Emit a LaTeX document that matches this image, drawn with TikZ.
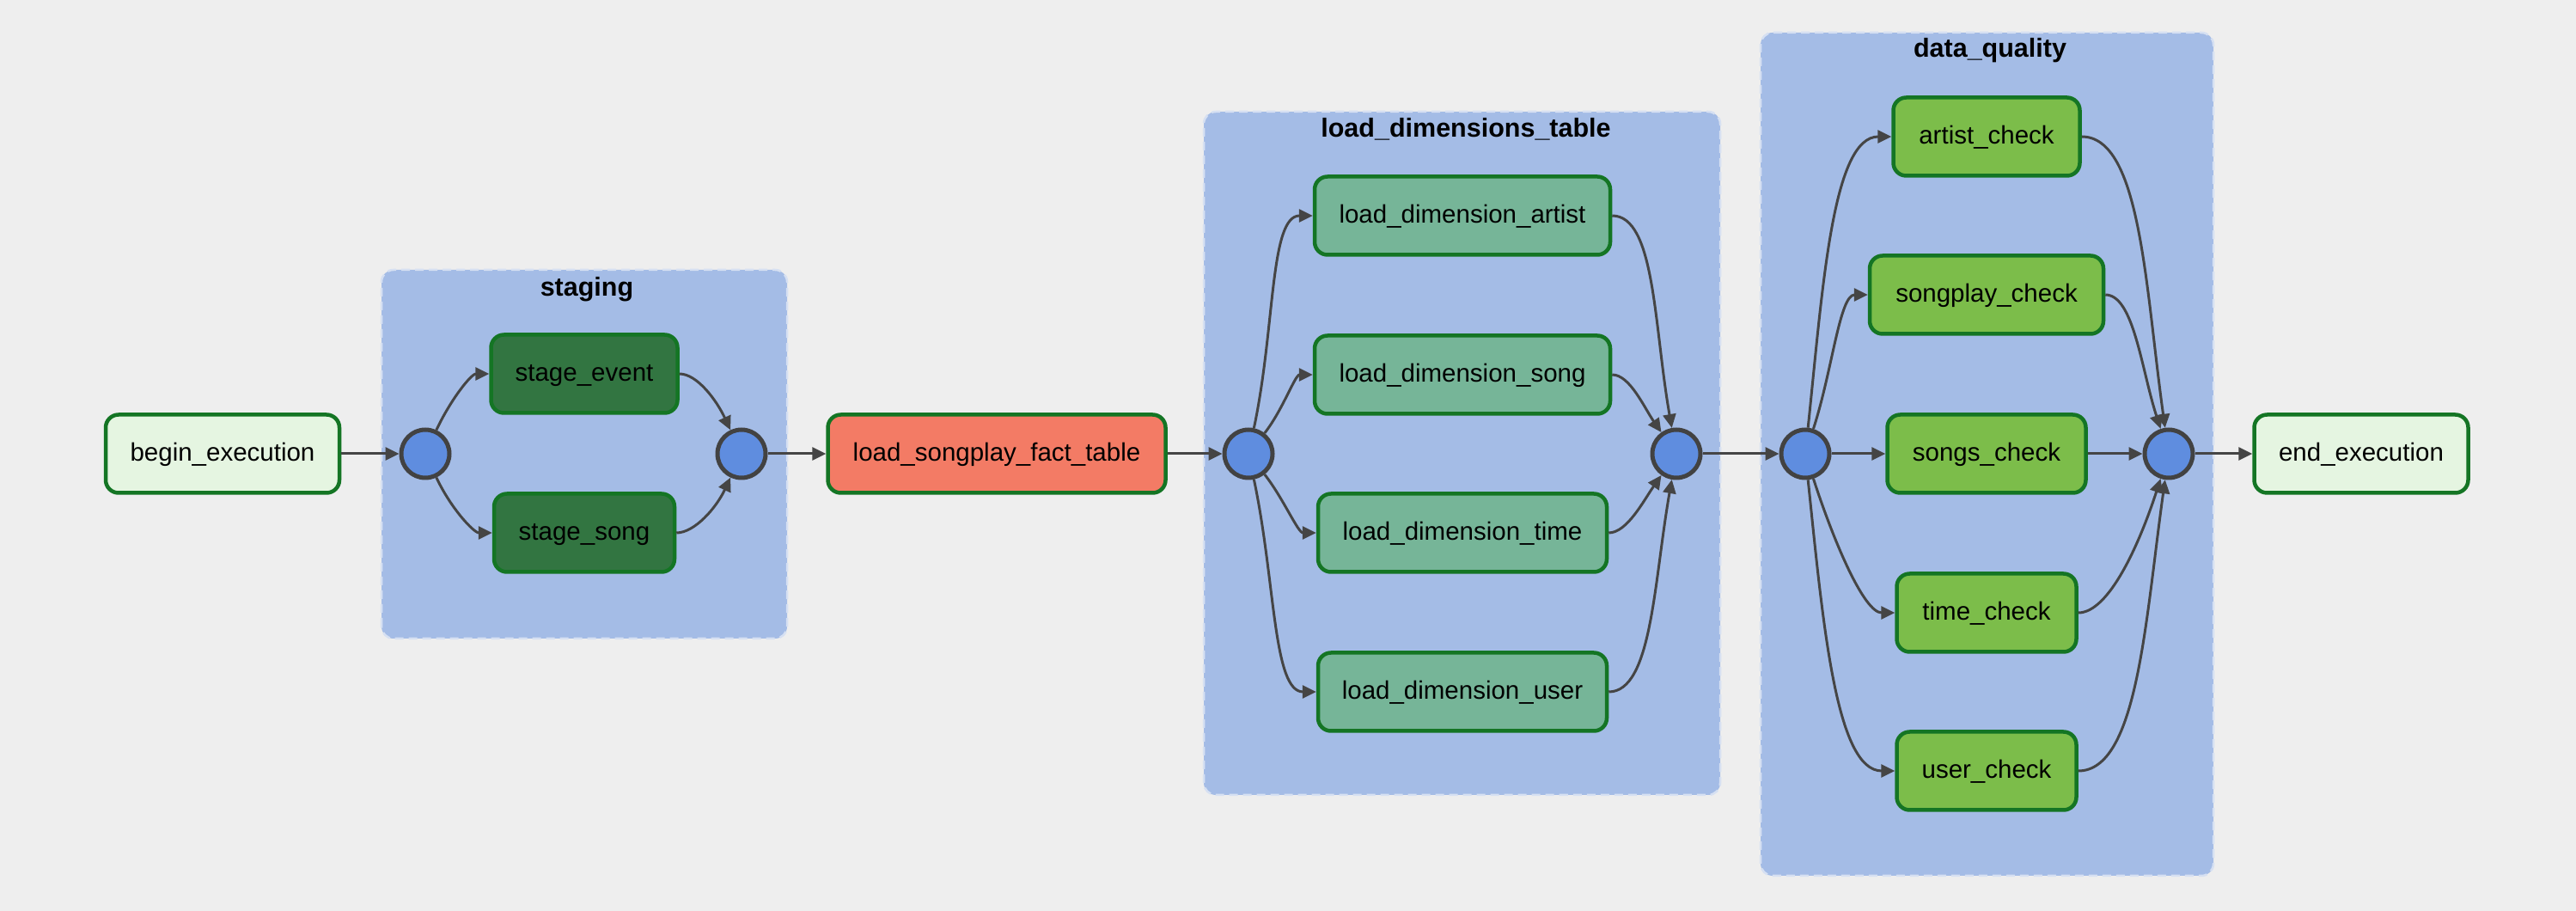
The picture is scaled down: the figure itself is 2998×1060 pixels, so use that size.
\documentclass[tikz,border=0pt]{standalone}
\usepackage{fontspec}
\setmainfont{Liberation Sans}
\usetikzlibrary{arrows.meta}
\definecolor{bg}{HTML}{EEEEEE}
\definecolor{grp}{HTML}{A4BCE6}
\definecolor{grpline}{HTML}{D6E0F2}
\definecolor{joinfill}{HTML}{5F8DDF}
\definecolor{joinline}{HTML}{424242}
\definecolor{boxline}{HTML}{147524}
\definecolor{termfill}{HTML}{E5F5E1}
\definecolor{stagefill}{HTML}{327541}
\definecolor{factfill}{HTML}{F37B65}
\definecolor{dimfill}{HTML}{76B598}
\definecolor{checkfill}{HTML}{7CBD4A}
\definecolor{edgecol}{HTML}{454545}
\tikzset{
  task/.style={draw=boxline, line width=4.5pt, rounded corners=15pt, inner sep=0pt,
    minimum height=91pt, align=center, text height=21pt, text depth=3pt,
    font=\fontsize{29.5}{35}\selectfont},
  joinpt/.style={circle, draw=joinline, fill=joinfill, line width=5pt, minimum size=56pt, inner sep=0pt},
  grpbox/.style={fill=grp, draw=grpline, line width=2.5pt, dash pattern=on 10pt off 6pt, rounded corners=14pt},
  grptitle/.style={font=\bfseries\fontsize{30.5}{36}\selectfont},
  edge/.style={draw=edgecol, line width=3pt, -{Triangle[length=16pt,width=15pt]}},
}
\begin{document}
\begin{tikzpicture}[x=1pt,y=1pt]
\fill[bg] (0,0) rectangle (2998,1060);
\useasboundingbox (0,0) rectangle (2998,1060);
% groups
\draw[grpbox] (444,317) rectangle (916,746);
\node[grptitle] (tstaging) at (683,723) {staging};
\draw[grpbox] (1401,135) rectangle (2002,930);
\node[grptitle] (tload) at (1706,910) {load\_dimensions\_table};
\draw[grpbox] (2049,41) rectangle (2576,1022);
\node[grptitle] (tdq) at (2316,1001) {data\_quality};
% nodes
\node[task, fill=termfill, minimum width=272pt] (begin) at (259,532) {begin\_execution};
\node[joinpt] (c1) at (495,532) {};
\node[task, fill=stagefill, minimum width=217pt] (se) at (680,625) {stage\_event};
\node[task, fill=stagefill, minimum width=210pt] (ss) at (680,440) {stage\_song};
\node[joinpt] (c2) at (863,532) {};
\node[task, fill=factfill, minimum width=393pt] (fact) at (1160,532) {load\_songplay\_fact\_table};
\node[joinpt] (c3) at (1453,532) {};
\node[task, fill=dimfill, minimum width=344pt] (da) at (1702,809) {load\_dimension\_artist};
\node[task, fill=dimfill, minimum width=344pt] (ds) at (1702,624) {load\_dimension\_song};
\node[task, fill=dimfill, minimum width=336pt] (dt) at (1702,440) {load\_dimension\_time};
\node[task, fill=dimfill, minimum width=336pt] (du) at (1702,255) {load\_dimension\_user};
\node[joinpt] (c4) at (1951,532) {};
\node[joinpt] (c5) at (2101,532) {};
\node[task, fill=checkfill, minimum width=217pt] (qa) at (2312,901) {artist\_check};
\node[task, fill=checkfill, minimum width=272pt] (qp) at (2312,717) {songplay\_check};
\node[task, fill=checkfill, minimum width=231pt] (qs) at (2312,532) {songs\_check};
\node[task, fill=checkfill, minimum width=209pt] (qt) at (2312,347) {time\_check};
\node[task, fill=checkfill, minimum width=209pt] (qu) at (2312,163) {user\_check};
\node[joinpt] (c6) at (2524,532) {};
\node[task, fill=termfill, minimum width=249pt] (end) at (2748,532) {end\_execution};
% straight edges
\draw[edge] (begin) -- (c1);
\draw[edge] (c2) -- (fact);
\draw[edge] (fact) -- (c3);
\draw[edge] (c4) -- (c5);
\draw[edge] (c5) -- (qs);
\draw[edge] (qs) -- (c6);
\draw[edge] (c6) -- (end);
% staging
\draw[edge] (c1) to[out=65,in=180,out looseness=1.1,in looseness=0.6] (se);
\draw[edge] (c1) to[out=-65,in=180,out looseness=1.1,in looseness=0.6] (ss);
\draw[edge] (se) to[out=0,in=115,out looseness=0.6,in looseness=1.1] (c2);
\draw[edge] (ss) to[out=0,in=245,out looseness=0.6,in looseness=1.1] (c2);
% load dims
\draw[edge] (c3) to[out=78,in=180,out looseness=1.2,in looseness=0.5] (da);
\draw[edge] (c3) to[out=52,in=180,out looseness=1.0,in looseness=0.6] (ds);
\draw[edge] (c3) to[out=-52,in=180,out looseness=1.0,in looseness=0.6] (dt);
\draw[edge] (c3) to[out=-78,in=180,out looseness=1.2,in looseness=0.5] (du);
\draw[edge] (da) to[out=0,in=100,out looseness=0.5,in looseness=1.2] (c4);
\draw[edge] (ds) to[out=0,in=125,out looseness=0.6,in looseness=1.0] (c4);
\draw[edge] (dt) to[out=0,in=235,out looseness=0.6,in looseness=1.0] (c4);
\draw[edge] (du) to[out=0,in=260,out looseness=0.5,in looseness=1.2] (c4);
% data quality
\draw[edge] (c5) to[out=84,in=180,out looseness=1.2,in looseness=0.5] (qa);
\draw[edge] (c5) to[out=72,in=180,out looseness=1.1,in looseness=0.5] (qp);
\draw[edge] (c5) to[out=-72,in=180,out looseness=1.1,in looseness=0.5] (qt);
\draw[edge] (c5) to[out=-84,in=180,out looseness=1.2,in looseness=0.5] (qu);
\draw[edge] (qa) to[out=0,in=98,out looseness=0.5,in looseness=1.2] (c6);
\draw[edge] (qp) to[out=0,in=108,out looseness=0.5,in looseness=1.1] (c6);
\draw[edge] (qt) to[out=0,in=252,out looseness=0.5,in looseness=1.1] (c6);
\draw[edge] (qu) to[out=0,in=262,out looseness=0.5,in looseness=1.2] (c6);
\end{tikzpicture}
\end{document}
